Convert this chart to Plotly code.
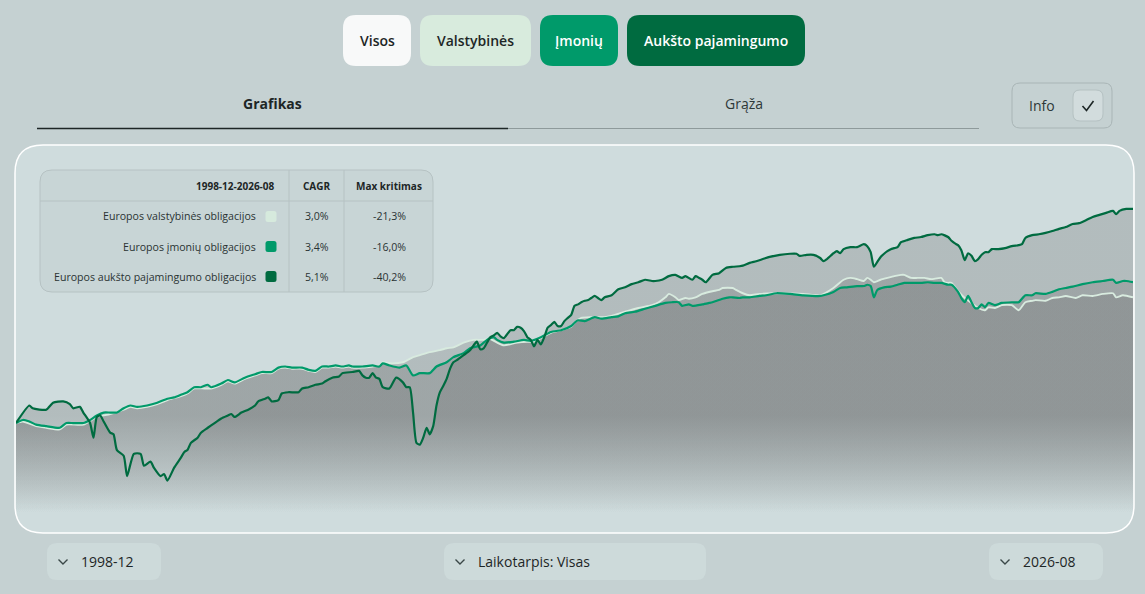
import plotly.graph_objects as go

# ---------------- data (index, 1998-12 = 100) ----------------
gov_dates = ["1998-12","1999-02","1999-06","1999-09","2000-01","2000-03","2000-08","2000-12","2001-04","2001-08",
             "2001-10","2001-12","2002-03","2002-06","2002-09","2003-01","2003-03","2003-05","2003-08","2003-10",
             "2004-01","2004-03","2004-05","2004-08","2004-11","2005-01","2005-04","2005-06","2005-08","2005-10",
             "2006-01","2006-03","2006-05","2006-07","2006-09","2006-11","2007-01","2007-03","2007-04","2007-07",
             "2007-10","2007-12","2008-01","2008-03","2008-07","2008-10","2008-12","2009-03","2009-06","2009-08",
             "2009-10","2010-01","2010-04","2010-07","2010-09","2010-11","2011-01","2011-05","2011-08","2011-10",
             "2011-12","2012-03","2012-06","2012-09","2012-10","2012-12","2013-03","2013-07","2013-10","2014-01",
             "2014-05","2014-09","2014-11","2015-01","2015-02","2015-04","2015-05","2015-07","2015-08","2015-10",
             "2015-12","2016-03","2016-05","2016-06","2016-09","2016-10","2016-12","2017-02","2017-05","2017-10",
             "2018-06","2018-11","2019-03","2019-06","2019-08","2019-10","2019-12","2020-01","2020-02","2020-03",
             "2020-05","2020-07","2020-09","2020-11","2020-12","2021-02","2021-04","2021-06","2021-08","2021-11",
             "2021-12","2022-01","2022-02","2022-04","2022-06","2022-08","2022-10","2022-12","2023-01","2023-03",
             "2023-05","2023-08","2023-10","2023-12","2024-02","2024-03","2024-06","2024-08","2024-10","2024-12",
             "2025-03","2025-05","2025-08","2025-11","2026-02","2026-03","2026-05","2026-08"]
gov_values = [100,101,98,97,96,99,99,104,106,109,
              111,110,111,113,116,119,121,125,125,125,
              128,131,129,133,136,138,138,142,143,142,
              142,140,139,143,143,144,143,144,143,143,
              144,145,148,147,148,153,155,158,160,162,
              163,168,171,171,172,168,165,168,169,169,
              173,179,182,186,191,197,198,198,201,205,
              210,214,218,225,230,225,221,224,223,225,
              230,234,236,239,239,236,231,228,230,231,
              230,228,239,252,255,253,250,255,252,248,
              252,255,258,260,260,255,255,255,253,255,
              248,247,247,234,224,217,210,207,211,210,
              214,214,207,218,220,221,220,224,225,227,
              224,228,227,230,231,225,228,225]

corp_dates = ["1998-12","1999-02","1999-04","1999-06","1999-09","2000-01","2000-03","2000-05","2000-08","2000-10",
              "2000-12","2001-02","2001-04","2001-06","2001-08","2001-10","2001-12","2002-03","2002-06","2002-09",
              "2002-11","2003-01","2003-03","2003-05","2003-07","2003-09","2003-10","2004-01","2004-03","2004-05",
              "2004-08","2004-11","2005-01","2005-04","2005-06","2005-08","2005-10","2006-01","2006-03","2006-05",
              "2006-07","2006-09","2006-11","2007-01","2007-03","2007-04","2007-07","2007-10","2007-12","2008-01",
              "2008-03","2008-06","2008-08","2008-10","2008-12","2009-03","2009-05","2009-08","2009-10","2010-01",
              "2010-03","2010-06","2010-08","2010-10","2010-11","2011-01","2011-04","2011-07","2011-09","2011-12",
              "2012-03","2012-06","2012-09","2012-10","2012-11","2013-01","2013-04","2013-06","2013-09","2013-11",
              "2014-01","2014-04","2014-07","2014-10","2015-01","2015-03","2015-05","2015-06","2015-08","2015-09",
              "2015-12","2016-02","2016-03","2016-06","2016-08","2016-09","2016-11","2016-12","2017-02","2017-05",
              "2017-07","2017-10","2018-02","2018-06","2018-11","2018-12","2019-03","2019-05","2019-07","2019-10",
              "2019-12","2020-01","2020-02","2020-03","2020-04","2020-06","2020-08","2020-10","2020-12","2021-02",
              "2021-05","2021-07","2021-09","2021-11","2022-01","2022-02","2022-04","2022-05","2022-06","2022-07",
              "2022-08","2022-09","2022-10","2022-11","2022-12","2023-01","2023-03","2023-05","2023-08","2023-10",
              "2023-12","2024-02","2024-03","2024-06","2024-08","2024-10","2024-12","2025-02","2025-05","2025-08",
              "2025-11","2026-02","2026-03","2026-05","2026-06","2026-08"]
corp_values = [100,102,101,99,98,97,100,100,100,102,
               105,107,107,107,110,112,111,112,114,117,
               118,120,122,126,126,128,126,129,132,130,
               134,137,139,139,143,144,143,143,141,140,
               144,144,145,144,145,144,144,145,144,147,
               145,143,145,136,138,138,144,148,153,157,
               162,165,171,174,171,168,169,171,170,174,
               180,182,187,191,194,193,198,196,198,199,
               203,205,209,213,217,218,218,213,215,213,
               215,217,218,223,225,225,224,225,225,227,
               228,231,230,228,227,228,233,239,240,242,
               242,244,242,225,236,240,241,244,247,247,
               247,248,247,247,244,244,233,224,218,227,
               218,210,210,215,211,217,214,217,218,218,
               228,228,231,230,233,237,239,241,245,248,
               250,252,247,250,250,248]

hy_dates = ["1998-12","1999-04","1999-05","1999-09","1999-11","2000-02","2000-04","2000-05","2000-07","2000-08",
            "2000-10","2000-11","2000-12","2001-01","2001-02","2001-04","2001-05","2001-06","2001-08","2001-09",
            "2001-11","2002-01","2002-02","2002-04","2002-05","2002-07","2002-08","2002-09","2002-11","2003-01",
            "2003-02","2003-03","2003-04","2003-06","2003-07","2003-09","2003-11","2004-01","2004-03","2004-04",
            "2004-05","2004-07","2004-09","2004-11","2004-12","2005-02","2005-03","2005-04","2005-06","2005-07",
            "2005-09","2005-12","2006-01","2006-03","2006-05","2006-07","2006-08","2006-10","2006-12","2007-01",
            "2007-04","2007-06","2007-07","2007-08","2007-09","2007-10","2007-11","2007-12","2008-01","2008-03",
            "2008-05","2008-07","2008-08","2008-09","2008-10","2008-11","2008-12","2009-01","2009-02","2009-03",
            "2009-04","2009-05","2009-06","2009-07","2009-08","2009-09","2009-10","2009-11","2010-01","2010-03",
            "2010-05","2010-06","2010-07","2010-08","2010-09","2010-10","2010-11","2010-12","2011-01","2011-03",
            "2011-04","2011-05","2011-06","2011-07","2011-08","2011-09","2011-10","2011-11","2011-12","2012-01",
            "2012-02","2012-03","2012-04","2012-05","2012-06","2012-07","2012-08","2012-09","2012-10","2012-11",
            "2012-12","2013-01","2013-02","2013-03","2013-04","2013-05","2013-06","2013-07","2013-09","2013-11",
            "2014-01","2014-03","2014-05","2014-07","2014-09","2014-10","2014-12","2015-02","2015-04","2015-06",
            "2015-07","2015-09","2015-10","2015-11","2015-12","2016-01","2016-03","2016-05","2016-07","2016-09",
            "2016-11","2016-12","2017-02","2017-04","2017-06","2017-08","2017-11","2018-02","2018-04","2018-05",
            "2018-07","2018-09","2018-11","2018-12","2019-01","2019-03","2019-04","2019-05","2019-06","2019-08",
            "2019-10","2019-12","2020-01","2020-02","2020-03","2020-04","2020-05","2020-06","2020-07","2020-08",
            "2020-09","2020-10","2020-11","2021-01","2021-03","2021-05","2021-07","2021-09","2021-10","2021-11",
            "2022-01","2022-02","2022-03","2022-04","2022-05","2022-06","2022-07","2022-08","2022-09","2022-10",
            "2022-11","2022-12","2023-01","2023-02","2023-04","2023-06","2023-08","2023-10","2023-11","2023-12",
            "2024-02","2024-04","2024-06","2024-08","2024-10","2024-12","2025-02","2025-04","2025-06","2025-08",
            "2025-10","2025-12","2026-02","2026-03","2026-04","2026-06","2026-08"]
hy_values = [100,112,110,109,114,115,113,110,111,107,
             100,91,104,105,101,94,93,84,81,71,
             82,82,76,78,75,71,72,69,75,80,
             83,84,88,91,94,97,100,103,105,106,
             104,107,109,112,115,117,118,115,116,121,
             122,122,125,126,128,129,131,134,135,138,
             139,140,136,134,134,138,134,133,126,125,
             134,130,126,126,107,88,87,91,97,93,
             98,112,122,127,133,142,148,150,155,160,
             169,161,162,168,174,176,179,175,173,182,
             182,186,185,181,174,171,164,171,166,174,
             185,188,192,187,187,193,197,201,213,215,
             218,220,221,224,227,224,221,225,228,237,
             240,245,248,252,250,250,252,258,260,255,
             258,252,258,255,252,248,260,263,272,274,
             275,276,281,284,288,292,296,298,298,294,
             296,296,290,284,288,299,303,299,307,311,
             311,317,313,301,274,283,292,298,303,307,
             309,311,321,326,330,332,336,338,336,338,
             332,324,319,315,305,286,299,294,284,288,
             296,301,301,307,307,309,313,315,317,330,
             336,338,341,345,350,354,361,363,370,378,
             383,388,393,385,393,398,398]

series_names = ["Europos valstybinės obligacijos", "Europos įmonių obligacijos",
                "Europos aukšto pajamingumo obligacijos"]
cagr_labels = ["3,0%", "3,4%", "5,1%"]
maxdd_labels = ["-21,3%", "-16,0%", "-40,2%"]
period_label = "1998-12-2026-08"
buttons = ["Visos", "Valstybinės", "Įmonių", "Aukšto pajamingumo"]
tabs = ["Grafikas", "Grąža"]
start_label, end_label, span_label = "1998-12", "2026-08", "Laikotarpis: Visas"

# ---------------- styling ----------------
W, H = 1145, 594
PAGE = "#c5d1d2"
PANEL = "#cfdcdd"
C_GOV, C_CORP, C_HY = "#d6eadd", "#009a6a", "#006b40"
C_GOV_LINE = "#d8ebdf"
FONT = "Open Sans"
Y_LOW, Y_HIGH = 49.2, 601.0


def fx(x):
    return x / W


def fy(y):
    return 1 - y / H


def rrect(x0, y0, x1, y1, r):
    p = [f"M{fx(x0 + r)},{fy(y0)}", f"L{fx(x1 - r)},{fy(y0)}", f"Q{fx(x1)},{fy(y0)} {fx(x1)},{fy(y0 + r)}",
         f"L{fx(x1)},{fy(y1 - r)}", f"Q{fx(x1)},{fy(y1)} {fx(x1 - r)},{fy(y1)}",
         f"L{fx(x0 + r)},{fy(y1)}", f"Q{fx(x0)},{fy(y1)} {fx(x0)},{fy(y1 - r)}",
         f"L{fx(x0)},{fy(y0 + r)}", f"Q{fx(x0)},{fy(y0)} {fx(x0 + r)},{fy(y0)}", "Z"]
    return " ".join(p)


def poly(pts):
    return "M" + " L".join(f"{fx(a)},{fy(b)}" for a, b in pts)


def text(x, y, s, font, xanchor="center"):
    return dict(x=fx(x), y=fy(y), text=s, showarrow=False, xref="paper", yref="paper",
                xanchor=xanchor, yanchor="middle", font=font)


fig = go.Figure()

grad = dict(type="vertical", start=56, stop=105,
            colorscale=[[0, "rgba(112,114,115,0)"], [1, "rgba(112,114,115,0.30)"]])

for d, v in [(gov_dates, gov_values), (corp_dates, corp_values), (hy_dates, hy_values)]:
    fig.add_trace(go.Scatter(x=[d[0], d[-1]], y=[Y_LOW, Y_LOW], mode="lines", line=dict(width=0),
                             hoverinfo="skip", showlegend=False))
    fig.add_trace(go.Scatter(x=d, y=v, mode="lines", line=dict(width=0, shape="spline", smoothing=0.6),
                             fill="tonexty", fillgradient=grad, hoverinfo="skip", showlegend=False))

for d, v, c, n, w in [(gov_dates, gov_values, C_GOV_LINE, series_names[0], 1.9),
                      (corp_dates, corp_values, C_CORP, series_names[1], 2.2),
                      (hy_dates, hy_values, C_HY, series_names[2], 2.2)]:
    fig.add_trace(go.Scatter(x=d, y=v, mode="lines", name=n,
                             line=dict(color=c, width=w, shape="spline", smoothing=0.6),
                             showlegend=False, hoverinfo="skip"))

shapes = []
ann = []

# panel
shapes.append(dict(type="path", path=rrect(15, 145, 1134, 533, 28), xref="paper", yref="paper",
                   fillcolor=PANEL, line=dict(color="#ffffff", width=1.5), layer="below"))

# top buttons
btn_geo = [(343, 411, "#f8f9f9", "#1d2626"), (420, 531, "#d8ebdd", "#1d2626"),
           (540, 618, "#009a6a", "#ffffff"), (627, 805, "#006b40", "#ffffff")]
for (x0, x1, fc, tc), label in zip(btn_geo, buttons):
    shapes.append(dict(type="path", path=rrect(x0, 15, x1, 66, 13), xref="paper", yref="paper",
                       fillcolor=fc, line=dict(width=0)))
    ann.append(text((x0 + x1) / 2, 41, label, dict(family=FONT, size=14, color=tc, weight=600)))

# tabs
ann.append(text(272, 104, tabs[0], dict(family=FONT, size=14, color="#1d2626", weight=700)))
ann.append(text(744, 104, tabs[1], dict(family=FONT, size=14, color="#2e3838")))
shapes.append(dict(type="line", x0=fx(507), x1=fx(979), y0=fy(128.5), y1=fy(128.5), xref="paper", yref="paper",
                   line=dict(color="#8e9a9b", width=1)))
shapes.append(dict(type="line", x0=fx(37), x1=fx(508), y0=fy(128.5), y1=fy(128.5), xref="paper", yref="paper",
                   line=dict(color="#1d2626", width=1.6)))

# info toggle
shapes.append(dict(type="path", path=rrect(1012, 83, 1112, 128, 8), xref="paper", yref="paper",
                   fillcolor="rgba(0,0,0,0)", line=dict(color="#a9b5b6", width=1)))
shapes.append(dict(type="path", path=rrect(1073, 90, 1103, 121, 7), xref="paper", yref="paper",
                   fillcolor="#d2dcdd", line=dict(color="#b5c1c2", width=1)))
shapes.append(dict(type="path", path=poly([(1082.5, 106), (1086.5, 110.5), (1093.5, 101)]), xref="paper",
                   yref="paper", line=dict(color="#1d2626", width=1.6)))
ann.append(text(1042, 105, "Info", dict(family=FONT, size=14, color="#2e3838")))

# table
shapes.append(dict(type="path", path=rrect(40, 170, 433, 292, 12), xref="paper", yref="paper",
                   fillcolor="#c8d5d6", line=dict(color="#b6c2c3", width=1), layer="above"))
for xv in (289, 344):
    shapes.append(dict(type="line", x0=fx(xv), x1=fx(xv), y0=fy(170), y1=fy(292), xref="paper", yref="paper",
                       line=dict(color="#b6c2c3", width=1)))
shapes.append(dict(type="line", x0=fx(40), x1=fx(433), y0=fy(201), y1=fy(201), xref="paper", yref="paper",
                   line=dict(color="#b6c2c3", width=1)))
hdr_font = dict(family=FONT, size=10, color="#1d2626", weight=700)
ann.append(text(277, 185.5, period_label, hdr_font, "right"))
ann.append(text(317, 185.5, "CAGR", hdr_font))
ann.append(text(389, 185.5, "Max kritimas", hdr_font))
row_font = dict(family=FONT, size=10.6, color="#2a3333")
for i, (nm, cg, dd, col) in enumerate(zip(series_names, cagr_labels, maxdd_labels, [C_GOV, C_CORP, C_HY])):
    yc = 216.5 + i * 30
    ann.append(text(258, yc, nm, row_font, "right"))
    ann.append(text(317, yc, cg, row_font))
    ann.append(text(389, yc, dd, row_font))
    shapes.append(dict(type="path", path=rrect(265.5, yc - 5.5, 276.5, yc + 5.5, 2.5), xref="paper",
                       yref="paper", fillcolor=col, line=dict(width=0), layer="above"))

# bottom selectors
for x0, x1, label in [(47, 161, start_label), (444, 706, span_label), (989, 1103, end_label)]:
    shapes.append(dict(type="path", path=rrect(x0, 543, x1, 580, 10), xref="paper", yref="paper",
                       fillcolor="#cddada", line=dict(width=0)))
    cx = x0 + 16
    shapes.append(dict(type="path", path=poly([(cx - 4.5, 559.5), (cx, 564), (cx + 4.5, 559.5)]),
                       xref="paper", yref="paper", line=dict(color="#3a4747", width=1.4)))
    ann.append(text(x0 + 32, 561.5, label, dict(family=FONT, size=14, color="#1d2626"), "left"))

fig.update_layout(
    width=W, height=H, margin=dict(l=0, r=0, t=0, b=0),
    paper_bgcolor=PAGE, plot_bgcolor="rgba(0,0,0,0)",
    shapes=shapes, annotations=ann, showlegend=False, hovermode=False,
    xaxis=dict(domain=[fx(16), fx(1133)], range=["1998-12-01", "2026-08-01"], visible=False,
               type="date"),
    yaxis=dict(domain=[fy(533), fy(145)], type="log", range=[1.6920, 2.7789], visible=False),
)

fig.write_html("out.html", config={"displayModeBar": False},
               post_script="document.body.style.margin='0';document.body.style.background='" + PAGE + "';")
